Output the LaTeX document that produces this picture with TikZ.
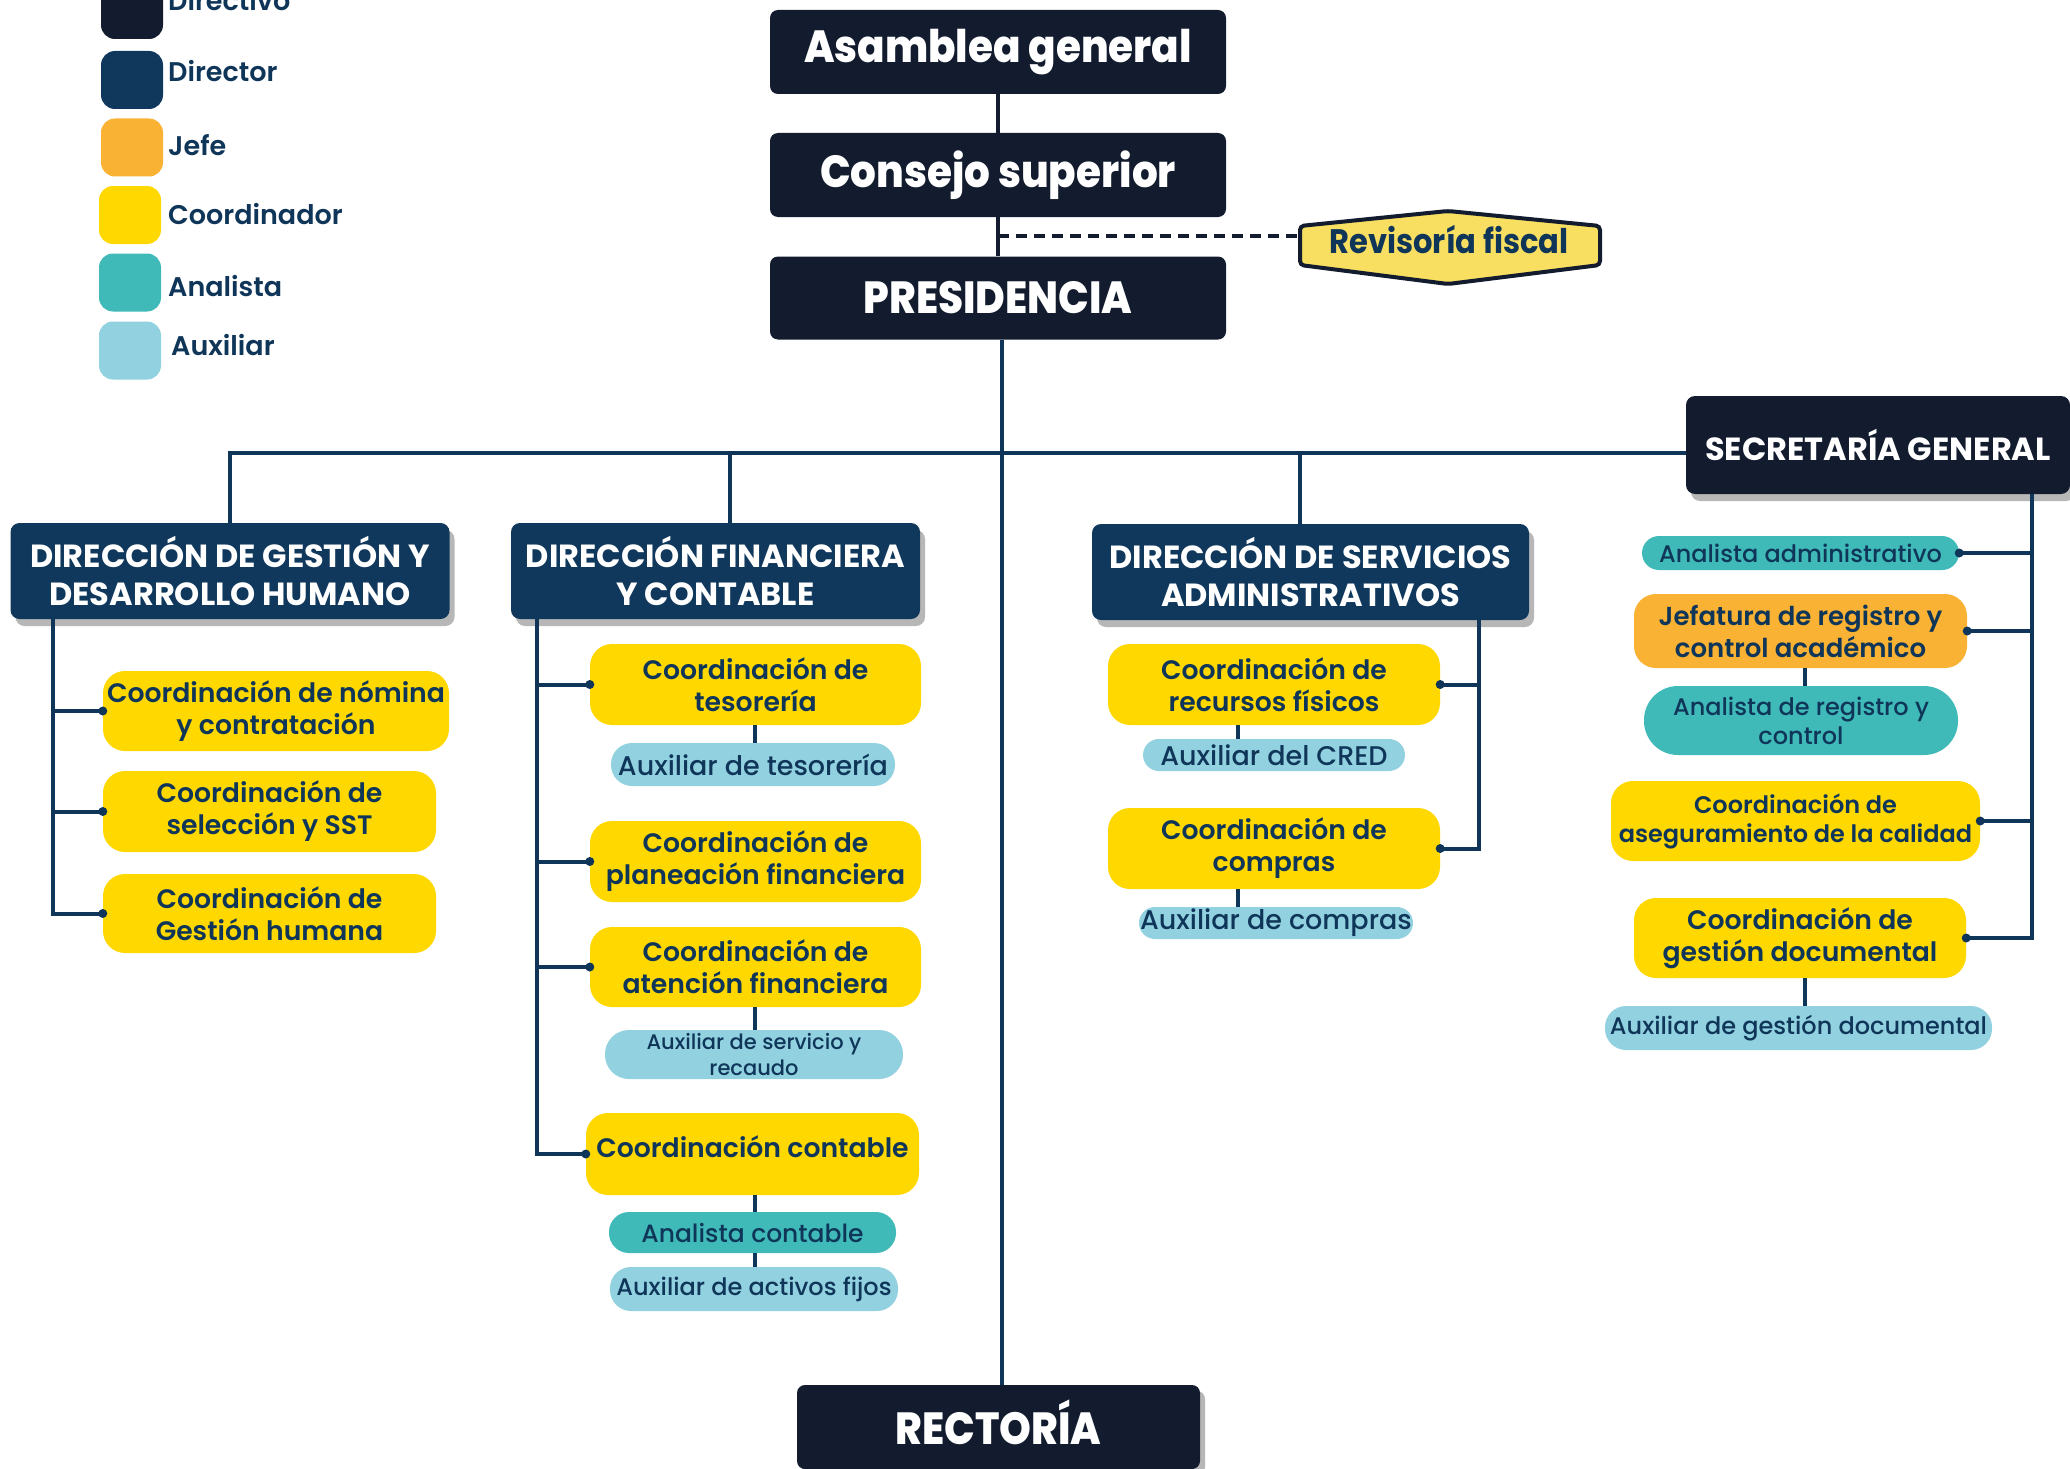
\documentclass[tikz,border=0pt]{standalone}
\usepackage{fontspec}
\usepackage{graphicx}
\setmainfont{Poppins}
\newfontfamily\pxb{Poppins ExtraBold}
\newfontfamily\psb{Poppins SemiBold}
\newfontfamily\pmd{Poppins Medium}
\usetikzlibrary{shadows,calc}
\definecolor{directivo}{HTML}{121C2E}
\definecolor{director}{HTML}{10385C}
\definecolor{jefec}{HTML}{F9B233}
\definecolor{coordc}{HTML}{FFD800}
\definecolor{analc}{HTML}{3FBAB8}
\definecolor{auxc}{HTML}{92D1E0}
\definecolor{navy}{HTML}{0F3659}
\definecolor{hexfill}{HTML}{F8DF62}
\tikzset{
  topbox/.style={fill=directivo, rounded corners=8pt, text=white, inner sep=0pt,
    font=\pxb\fontsize{45}{49}\selectfont},
  dirbox/.style={fill=director, rounded corners=9pt, text=white, align=center, inner sep=0pt,
    font=\bfseries\fontsize{32}{38}\selectfont,
    drop shadow={shadow xshift=5pt, shadow yshift=-7pt, opacity=0.4, fill=black!70}},
  coordbox/.style={fill=coordc, rounded corners=22pt, text=navy, align=center, inner sep=0pt,
    font=\psb\fontsize{26.7}{32}\selectfont},
  jefbox/.style={coordbox, fill=jefec},
  auxbox/.style={fill=auxc, rounded corners=16pt, text=navy, align=center, inner sep=0pt,
    font=\pmd\fontsize{27}{30}\selectfont},
  anbox/.style={auxbox, fill=analc, font=\pmd\fontsize{24}{29}\selectfont},
  legsq/.style={rounded corners=14pt, minimum width=62pt, minimum height=58pt, inner sep=0pt},
  legtxt/.style={anchor=base west, text=navy, inner sep=0pt, font=\psb\fontsize{27}{32}\selectfont},
  conn/.style={draw=navy, line width=4pt},
  subconn/.style={draw=navy, line width=3.5pt},
  topconn/.style={draw=directivo, line width=3.5pt},
  dashline/.style={draw=directivo, line width=4pt, dash pattern=on 11pt off 7pt},
  dotc/.style={fill=navy}
}
\begin{document}
\begin{tikzpicture}[x=1pt,y=-1pt]
\useasboundingbox (0,0) rectangle (2070,1469);
\fill[white] (0,0) rectangle (2070,1469);

% ---------- legend ----------
\node[legsq, fill=directivo] (lq1) at (132,10) {};
\node[legsq, fill=director]  (lq2) at (132,80) {};
\node[legsq, fill=jefec]     (lq3) at (132,147.5) {};
\node[legsq, fill=coordc]    (lq4) at (130,215) {};
\node[legsq, fill=analc]     (lq5) at (130,282.5) {};
\node[legsq, fill=auxc]      (lq6) at (130,350.5) {};
\node[legtxt] (lt1) at (168,11) {Directivo};
\node[legtxt] (lt2) at (168,82) {Director};
\node[legtxt] (lt3) at (168,156) {Jefe};
\node[legtxt] (lt4) at (168,224) {Coordinador};
\node[legtxt] (lt5) at (168,296) {Analista};
\node[legtxt] (lt6) at (171,355) {Auxiliar};

% ---------- top ----------
\node[topbox, minimum width=456pt, minimum height=84pt] (asam) at (998,52) {\scalebox{0.9}[1]{Asamblea general}};
\node[topbox, minimum width=456pt, minimum height=84pt] (cons) at (998,175) {\scalebox{0.9}[1]{Consejo superior}};
\node[topbox, minimum width=456pt, minimum height=83pt] (pres) at (998,298) {\scalebox{0.9}[1]{PRESIDENCIA}};
\node[topbox, minimum width=403pt, minimum height=84pt, text depth=10pt,
  drop shadow={shadow xshift=5pt, shadow yshift=-6pt, opacity=0.4, fill=black!70}] (rect) at (998.5,1427) {\scalebox{0.9}[1]{RECTORÍA}};

\draw[topconn] (asam) -- (cons);
\draw[topconn] (cons) -- (pres);

% Revisoría fiscal hexagon
\draw[line width=4pt, draw=directivo, fill=hexfill, rounded corners=4pt]
  (1448,211) -- (1600,226) -- (1600,265) -- (1448,284) -- (1300,265) -- (1300,226) -- cycle;
\node[text=navy, inner sep=0pt, font=\bfseries\fontsize{34}{36}\selectfont] (rev) at (1449,240) {\scalebox{0.9}[1]{Revisoría fiscal}};
\coordinate (revL) at (1300,236);
\draw[dashline] (cons.south |- revL) -- (revL);

% ---------- directors ----------
\node[dirbox, minimum width=439pt, minimum height=96pt] (dgdh) at (230,571) {DIRECCIÓN DE GESTIÓN Y\\DESARROLLO HUMANO};
\node[dirbox, minimum width=409pt, minimum height=96pt] (dfc) at (715.5,571) {DIRECCIÓN FINANCIERA\\Y CONTABLE};
\node[dirbox, minimum width=437pt, minimum height=96pt] (dsa) at (1310.5,572) {DIRECCIÓN DE SERVICIOS\\ADMINISTRATIVOS};
\node[dirbox, fill=directivo, minimum width=384pt, minimum height=98pt] (sg) at (1878,445) {SECRETARÍA GENERAL};

% bus
\coordinate (bus) at (0,453);
\coordinate (pdrop) at (1002,0);
\draw[conn] (pres.south -| pdrop) -- (rect.north -| pdrop);
\draw[conn] (dgdh.north) -- (dgdh.north |- bus) -- (bus -| sg.west);
\coordinate (dfcdrop) at (730,0);
\draw[conn] (dfcdrop |- bus) -- (dfcdrop |- dfc.north);
\coordinate (dsadrop) at (1300,0);
\draw[conn] (dsadrop |- bus) -- (dsadrop |- dsa.north);

% ---------- DGDH ----------
\node[coordbox, minimum width=346pt, minimum height=80pt] (nomina) at (276,711) {Coordinación de nómina\\y contratación};
\node[coordbox, minimum width=333pt, minimum height=81pt] (sel) at (269.5,811.5) {Coordinación de\\selección y SST};
\node[coordbox, minimum width=333pt, minimum height=79pt] (gh) at (269.5,913.5) {Coordinación de\\Gestión humana};
\coordinate (sp1) at (53,0);
\draw[conn] (dgdh.south -| sp1) |- (gh.west);
\draw[conn] (nomina.west) -- (nomina.west -| sp1);
\draw[conn] (sel.west) -- (sel.west -| sp1);
\foreach \n in {nomina,sel,gh} \fill[dotc] (\n.west) circle (4.5pt);

% ---------- DFC ----------
\node[coordbox, minimum width=331pt, minimum height=81pt] (tes) at (755.5,684.5) {Coordinación de\\tesorería};
\node[auxbox, minimum width=284pt, minimum height=43pt, rounded corners=21pt] (auxtes) at (753,764.5) {Auxiliar de tesorería};
\node[coordbox, minimum width=331pt, minimum height=81pt] (plan) at (755.5,861.5) {Coordinación de\\planeación financiera};
\node[coordbox, minimum width=331pt, minimum height=80pt] (aten) at (755.5,967) {Coordinación de\\atención financiera};
\node[auxbox, minimum width=298pt, minimum height=49pt, rounded corners=24pt, font=\pmd\fontsize{21}{26}\selectfont] (auxserv) at (754,1054.5) {Auxiliar de servicio y\\recaudo};
\node[coordbox, minimum width=333pt, minimum height=82pt, text depth=14pt] (cont) at (752.5,1154) {Coordinación contable};
\node[anbox, minimum width=287pt, minimum height=41pt, rounded corners=20pt, font=\pmd\fontsize{25}{29}\selectfont] (analcont) at (752.5,1232.5) {Analista contable};
\node[auxbox, minimum width=288pt, minimum height=44pt, rounded corners=21pt, font=\pmd\fontsize{24}{29}\selectfont] (auxact) at (754,1289) {Auxiliar de activos fijos};
\coordinate (sp2) at (537,0);
\draw[conn] (dfc.south -| sp2) |- (cont.west);
\foreach \n in {tes,plan,aten} \draw[conn] (\n.west) -- (\n.west -| sp2);
\foreach \n in {tes,plan,aten,cont} \fill[dotc] (\n.west) circle (4.5pt);
\coordinate (c7) at (755,0);
\draw[subconn] (tes.south -| c7) -- (auxtes.north -| c7);
\draw[subconn] (aten.south -| c7) -- (auxserv.north -| c7);
\draw[subconn] (cont.south -| c7) -- (analcont.north -| c7);
\draw[subconn] (analcont.south -| c7) -- (auxact.north -| c7);

% ---------- DSA ----------
\node[coordbox, minimum width=332pt, minimum height=81pt] (rf) at (1274,684.5) {Coordinación de\\recursos físicos};
\node[auxbox, minimum width=262pt, minimum height=32pt] (cred) at (1274,755) {Auxiliar del CRED};
\node[coordbox, minimum width=332pt, minimum height=81pt] (comp) at (1274,848.5) {Coordinación de\\compras};
\node[auxbox, minimum width=274pt, minimum height=32pt] (auxcomp) at (1276,923) {Auxiliar de compras};
\coordinate (sp3) at (1479,0);
\draw[conn] (dsa.south -| sp3) |- (comp.east);
\draw[conn] (rf.east) -- (rf.east -| sp3);
\foreach \n in {rf,comp} \fill[dotc] (\n.east) circle (4.5pt);
\coordinate (c5) at (1238,0);
\draw[subconn] (rf.south -| c5) -- (cred.north -| c5);
\draw[subconn] (comp.south -| c5) -- (auxcomp.north -| c5);

% ---------- SG ----------
\node[anbox, minimum width=317pt, minimum height=34pt, rounded corners=17pt] (anadm) at (1800.5,553) {Analista administrativo};
\node[jefbox, minimum width=333pt, minimum height=74pt, font=\psb\fontsize{26}{32}\selectfont] (jef) at (1800.5,631) {Jefatura de registro y\\control académico};
\node[anbox, minimum width=314pt, minimum height=69pt, rounded corners=34pt] (anreg) at (1801,720.5) {Analista de registro y\\control};
\node[coordbox, minimum width=369pt, minimum height=80pt, font=\psb\fontsize{24}{29}\selectfont] (aseg) at (1795.5,821) {Coordinación de\\aseguramiento de la calidad};
\node[coordbox, minimum width=332pt, minimum height=80pt] (gdoc) at (1800,938) {Coordinación de\\gestión documental};
\node[auxbox, minimum width=387pt, minimum height=44pt, rounded corners=21pt, font=\pmd\fontsize{24}{29}\selectfont] (auxgd) at (1798.5,1028) {Auxiliar de gestión documental};
\coordinate (sp4) at (2032,0);
\draw[conn] (sg.south -| sp4) |- (gdoc.east);
\foreach \n in {anadm,jef,aseg} \draw[conn] (\n.east) -- (\n.east -| sp4);
\foreach \n in {anadm,jef,aseg,gdoc} \fill[dotc] (\n.east) circle (4.5pt);
\coordinate (c6) at (1805,0);
\draw[subconn] (jef.south -| c6) -- (anreg.north -| c6);
\draw[subconn] (gdoc.south -| c6) -- (auxgd.north -| c6);
\end{tikzpicture}
\end{document}
